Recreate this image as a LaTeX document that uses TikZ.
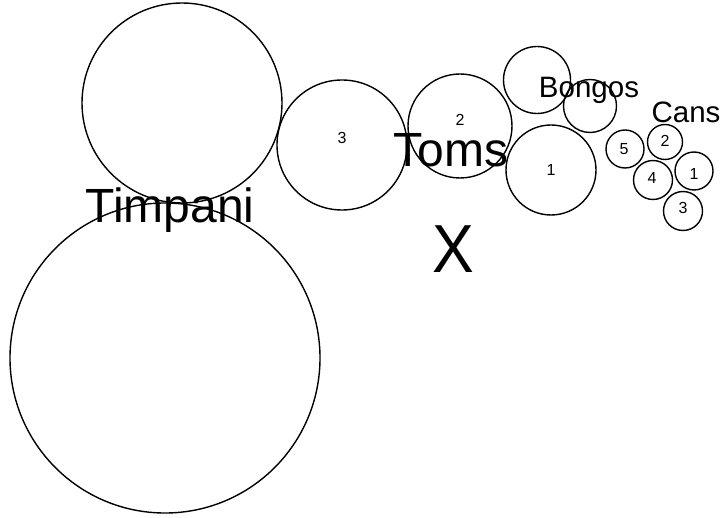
\documentclass[tikz,border=0pt]{standalone}
\usepackage{fontspec}
\setmainfont{Liberation Sans}
\begin{document}
\begin{tikzpicture}[x=1pt,y=-1pt,
  ring/.style={draw=black,line width=1.4pt,circle,inner sep=0pt,minimum size=#1},
  big/.style={font=\fontsize{48}{48}\selectfont,inner sep=0pt,anchor=base},
  mid/.style={font=\fontsize{29.5}{29.5}\selectfont,inner sep=0pt,anchor=base},
  num/.style={font=\fontsize{16}{16}\selectfont,inner sep=0pt}]
\useasboundingbox (0,0) rectangle (720,518);
% Timpani
\node[ring=200pt] (t1) at (182,103) {};
\node[ring=310pt] (t2) at (165,358) {};
% Toms
\node[ring=130pt] (tom3) at (342,145) {};
\node[ring=104pt] (tom2) at (460,126) {};
\node[ring=90pt]  (tom1) at (551,170) {};
% Bongos
\node[ring=67pt] (b1) at (537,80) {};
\node[ring=53pt] (b2) at (590,106) {};
% Cans
\node[ring=38pt] (c5) at (625,149) {};
\node[ring=35pt] (c2) at (665,142) {};
\node[ring=39pt] (c4) at (653,180) {};
\node[ring=38pt] (c1) at (694,171) {};
\node[ring=39pt] (c3) at (683,211) {};
% numbers
\node[num] (n3) at (342,138) {3};
\node[num] (n2) at (460,120) {2};
\node[num] (n1) at (551,170) {1};
\node[num] (cn5) at (624,149) {5};
\node[num] (cn2) at (665,141) {2};
\node[num] (cn4) at (652,178) {4};
\node[num] (cn1) at (694,174) {1};
\node[num] (cn3) at (683,208) {3};
% labels
\node[big] (lt) at (170,223) {Timpani};
\node[big] (lm) at (451,167) {Toms};
\node[mid] (lb) at (589,98) {Bongos};
\node[mid] (lc) at (686,123) {Cans};
\node[font=\fontsize{68}{68}\selectfont,inner sep=0pt,anchor=base,xscale=0.92] (lx) at (453,273) {X};
\end{tikzpicture}
\end{document}
